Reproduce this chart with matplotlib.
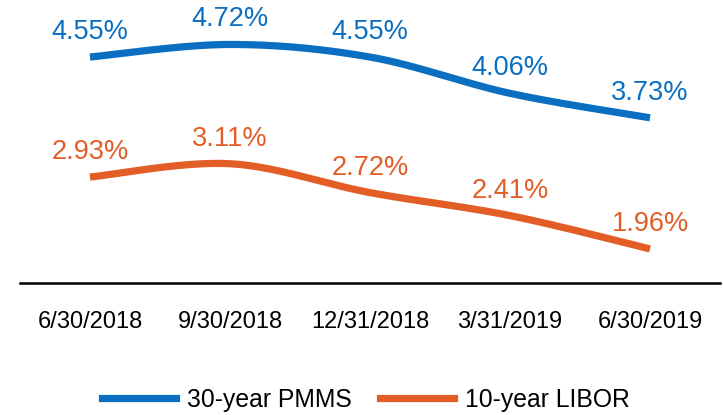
import numpy as np
import matplotlib
matplotlib.use("Agg")
import matplotlib.pyplot as plt
from matplotlib.lines import Line2D

categories = ["6/30/2018", "9/30/2018", "12/31/2018", "3/31/2019", "6/30/2019"]
pmms = [4.55, 4.72, 4.55, 4.06, 3.73]
libor = [2.93, 3.11, 2.72, 2.41, 1.96]
series_names = ["30-year PMMS", "10-year LIBOR"]
colors = ["#0A6EC1", "#E35D26"]

plt.rcParams['font.family'] = ['Liberation Sans', 'DejaVu Sans']


def smooth(xs, ys, n=40):
    # Catmull-Rom style (Excel-like) smoothing through the given points
    xs = np.asarray(xs, float)
    ys = np.asarray(ys, float)
    px = np.concatenate([[xs[0]], xs, [xs[-1]]])
    py = np.concatenate([[ys[0]], ys, [ys[-1]]])
    outx, outy = [], []
    t = np.linspace(0, 1, n)
    for i in range(1, len(px) - 2):
        p0x, p1x, p2x, p3x = px[i - 1], px[i], px[i + 1], px[i + 2]
        p0y, p1y, p2y, p3y = py[i - 1], py[i], py[i + 1], py[i + 2]
        c1x = p1x + (p2x - p0x) / 6
        c1y = p1y + (p2y - p0y) / 6
        c2x = p2x - (p3x - p1x) / 6
        c2y = p2y - (p3y - p1y) / 6
        bx = (1 - t) ** 3 * p1x + 3 * (1 - t) ** 2 * t * c1x + 3 * (1 - t) * t ** 2 * c2x + t ** 3 * p2x
        by = (1 - t) ** 3 * p1y + 3 * (1 - t) ** 2 * t * c1y + 3 * (1 - t) * t ** 2 * c2y + t ** 3 * p2y
        outx.extend(bx)
        outy.extend(by)
    return np.array(outx), np.array(outy)


fig = plt.figure(figsize=(7.23, 4.15), dpi=100)
ax = fig.add_axes([20 / 723, 1 - 283 / 415, 700 / 723, 283 / 415])

x = np.arange(len(categories))
for vals, c in zip([pmms, libor], colors):
    sx, sy = smooth(x, vals)
    ax.plot(sx, sy, color=c, lw=5.2, solid_capstyle='butt')
    for xi, v in zip(x, vals):
        ax.annotate(f"{v:.2f}%", (xi, v), xytext=(0, 13), textcoords='offset points',
                    ha='center', va='baseline', color=c, fontsize=19.5)

ax.set_xlim(-0.5, 4.5)
ax.set_ylim(1.5, 5.32)
ax.set_xticks(x)
ax.set_xticklabels(categories, fontsize=17)
ax.tick_params(axis='x', length=0, pad=20)
ax.set_yticks([])
for s in ['top', 'right', 'left']:
    ax.spines[s].set_visible(False)
ax.spines['bottom'].set_linewidth(1.8)
ax.spines['bottom'].set_color('black')

handles = [Line2D([], [], color=c, lw=5.2) for c in colors]
fig.legend(handles, series_names, loc='center', bbox_to_anchor=(366 / 723, 1 - 400 / 415),
           ncol=2, frameon=False, fontsize=17.8, handlelength=3.0, handletextpad=0.45,
           columnspacing=1.15)

fig.savefig("out.png", dpi=100)
